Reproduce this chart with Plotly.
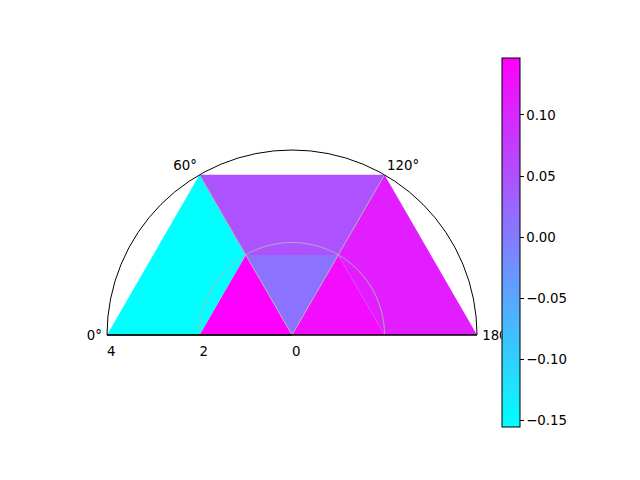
import plotly.graph_objects as go
from plotly.colors import sample_colorscale

# mesh points (radius, angle in degrees)
pt_r = [0, 2, 2, 2, 2, 4, 4, 4, 4]
pt_theta = [0, 0, 60, 120, 180, 0, 60, 120, 180]
# cells (indices into points): inner triangles and outer quads
cells = [[0, 1, 2], [0, 2, 3], [0, 3, 4],
         [1, 5, 6, 2], [2, 6, 7, 3], [3, 7, 8, 4]]
# cell values
cell_vals = [0.1467, 0.010, 0.131, -0.1557, 0.050, 0.112]

angle_ticks = [0, 60, 120, 180]
angle_labels = ["0°", "60°", "120°", "180°"]
radial_ticks = [0, 2, 4]
radial_range = [0, 4]
cbar_ticks = [-0.15, -0.10, -0.05, 0.00, 0.05, 0.10]

cool = [[0, "rgb(0,255,255)"], [1, "rgb(255,0,255)"]]
vmin, vmax = min(cell_vals), max(cell_vals)

W, H = 640, 480
dom_x = [107 / W, 477 / W]
dom_y = [1 - 335 / H, 1 - 150 / H]
FONT = dict(family="DejaVu Sans", size=13.33, color="black")
GRID = "#b0b0b0"
CLEAR = "rgba(0,0,0,0)"

fig = go.Figure()
for cell, v in zip(cells, cell_vals):
    col = sample_colorscale(cool, [(v - vmin) / (vmax - vmin)])[0]
    idx = cell + [cell[0]]
    fig.add_trace(go.Scatterpolar(
        r=[pt_r[i] for i in idx], theta=[pt_theta[i] for i in idx],
        mode="lines", fill="toself", fillcolor=col,
        line=dict(width=0, color=col), hoverinfo="skip", showlegend=False))

# grid drawn above the cells (as matplotlib does)
arc_theta = list(range(angle_ticks[0], angle_ticks[-1] + 1))
for rt in radial_ticks[1:-1]:
    fig.add_trace(go.Scatterpolar(
        r=[rt] * len(arc_theta), theta=arc_theta, mode="lines",
        line=dict(color=GRID, width=1), hoverinfo="skip", showlegend=False))
for at in angle_ticks[1:-1]:
    fig.add_trace(go.Scatterpolar(
        r=[radial_range[0], radial_range[1]], theta=[at, at], mode="lines",
        line=dict(color=GRID, width=1), hoverinfo="skip", showlegend=False))

# colorbar carrier
fig.add_trace(go.Scatterpolar(
    r=[0, 0], theta=[0, 0], mode="markers",
    marker=dict(color=[vmin, vmax], colorscale=cool, cmin=vmin, cmax=vmax,
                opacity=0, size=1, showscale=True,
                colorbar=dict(thickness=18, thicknessmode="pixels",
                              len=369, lenmode="pixels",
                              x=502 / W, xanchor="left", xpad=0,
                              y=1 - 242.5 / H, yanchor="middle", ypad=0,
                              outlinewidth=1, outlinecolor="black",
                              ticks="outside", ticklen=3.5, tickwidth=0.8,
                              tickcolor="black", tickvals=cbar_ticks,
                              tickformat=".2f", tickfont=FONT,
                              bgcolor="white")),
    hoverinfo="skip", showlegend=False))

fig.update_layout(
    width=W, height=H, margin=dict(l=0, r=0, t=0, b=0),
    paper_bgcolor="white", font=FONT, showlegend=False,
    polar=dict(
        domain=dict(x=dom_x, y=dom_y),
        sector=[0, 180], bgcolor="white",
        angularaxis=dict(rotation=180, direction="clockwise",
                         tickmode="array",
                         # plotly reports this sector as [-360, -180]
                         tickvals=[a - 360 for a in angle_ticks],
                         ticktext=angle_labels, showticklabels=True,
                         ticks="outside", ticklen=2, tickcolor=CLEAR,
                         showline=True, linecolor="black", linewidth=1,
                         showgrid=False, tickfont=FONT),
        radialaxis=dict(range=radial_range, tickmode="array",
                        tickvals=radial_ticks, tickangle=180,
                        angle=180, ticks="outside", ticklen=2, tickcolor=CLEAR,
                        showline=True, linecolor="black",
                        linewidth=1, showgrid=False, tickfont=FONT,
                        side="counterclockwise"),
    ),
    shapes=[dict(type="line", xref="paper", yref="paper",
                 x0=dom_x[0], x1=dom_x[1], y0=dom_y[0], y1=dom_y[0],
                 line=dict(color="black", width=1))],
)

fig.write_html("out.html", config={"displayModeBar": False},
               post_script="document.body.style.margin='0px';")
